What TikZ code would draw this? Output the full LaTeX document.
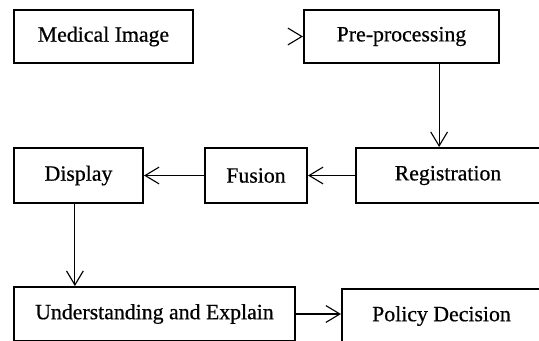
\documentclass[tikz,border=0pt]{standalone}
\usepackage{fontspec}
\setmainfont[FakeBold=0.6]{Liberation Serif}
\usetikzlibrary{arrows.meta}
\begin{document}
\begin{tikzpicture}[x=0.025cm,y=-0.025cm,
  every node/.style={align=center,font=\fontsize{15.5}{18}\selectfont},
  stage/.style={draw,line width=1.4pt,inner sep=0pt},
  arr/.style={line width=0.8pt,-{Straight Barb[length=0.35cm,width=0.42cm,line width=0.8pt]}}]
\useasboundingbox (0,0) rectangle (539,341);
\clip (0,0) rectangle (539,341);
\node[stage,minimum width=4.475cm,minimum height=1.325cm] (med) at (103.5,36.5) {Medical Image};
\node[stage,minimum width=4.875cm,minimum height=1.325cm] (pre) at (401.5,36.5) {Pre-processing};
\node[stage,minimum width=4.6cm,minimum height=1.375cm] (reg) at (448,175.5) {Registration};
\node[stage,minimum width=2.55cm,minimum height=1.375cm] (fus) at (256,175.5) {Fusion};
\node[stage,minimum width=3.225cm,minimum height=1.375cm] (disp) at (78.5,175.5) {Display};
\node[stage,minimum width=7.025cm,minimum height=1.35cm] (und) at (154.5,314) {Understanding and Explain};
\node[stage,minimum width=4.975cm,minimum height=1.35cm] (pol) at (441.5,316) {Policy Decision};
\coordinate (medtip) at (301.5,36.5);
\draw[arr] (medtip) -- (pre.west);
\draw[arr] ([xshift=0.94cm]pre.south) -- ([xshift=0.94cm]pre.south |- reg.north);
\draw[arr] (reg.west) -- (fus.east);
\draw[arr] (fus.west) -- (disp.east);
\draw[arr] ([xshift=-0.09cm]disp.south) -- ([xshift=-0.09cm]disp.south |- und.north);
\draw[arr] (und.east) -- (und.east -| pol.west);
\end{tikzpicture}
\end{document}
